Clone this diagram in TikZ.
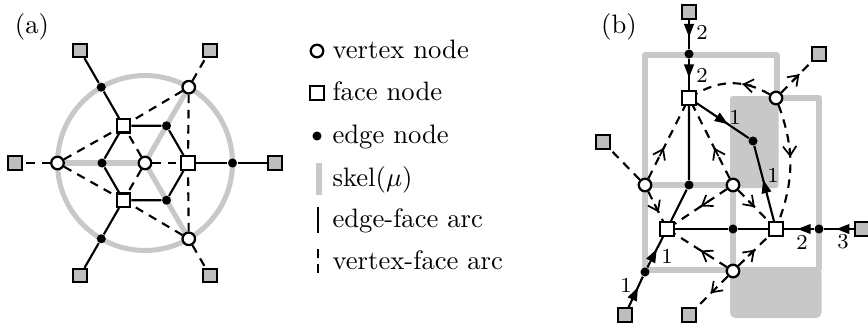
\documentclass[tikz,border=0pt]{standalone}
\usetikzlibrary{arrows.meta,decorations.markings}
\definecolor{skelgray}{RGB}{200,200,200}
\definecolor{boxgray}{RGB}{190,190,190}
\pgfdeclarelayer{background}
\pgfsetlayers{background,main}
\tikzset{
  vnode/.style={circle,draw,fill=white,line width=0.85pt,minimum size=4.7pt,inner sep=0pt},
  fnode/.style={rectangle,draw,fill=white,line width=0.85pt,minimum size=5pt,inner sep=0pt},
  onode/.style={fnode,fill=boxgray},
  enode/.style={circle,fill=black,minimum size=3.4pt,inner sep=0pt},
  skel/.style={draw=skelgray,line width=1.9pt,line join=round},
  efarc/.style={draw,line width=0.8pt},
  vfarc/.style={draw,line width=0.8pt,dash pattern=on 3.2pt off 2.5pt},
  lbl/.style={font=\footnotesize,inner sep=0pt},
  legtext/.style={anchor=base west,inner sep=0pt},
  midtri/.style={postaction={decorate},decoration={markings,
      mark=at position #1 with {\arrow{Triangle[length=5pt,width=3.6pt]}}}},
  midtri/.default=0.5,
  midbarb/.style={postaction={decorate},decoration={markings,
      mark=at position #1 with {\draw[solid,line width=0.65pt] (-3.5pt,0) -- (0,0);
        \arrow[line width=0.65pt]{Straight Barb[length=3.5pt,width=5pt]}}}},
  midbarb/.default=0.5,
}
\begin{document}
\begin{tikzpicture}[x=0.375pt,y=-0.375pt]
\useasboundingbox (0,0) rectangle (868,328);

% ---------------- (a) ----------------
\node (alabel) at (32,27) {(a)};

\node[vnode] (ac) at (145,163) {};
\node[vnode] (al) at (57.5,163) {};
\node[vnode] (au) at (188.75,87.2) {};
\node[vnode] (ad) at (188.75,238.8) {};
\node[fnode] (af0) at (188,163) {};
\node[fnode] (af1) at (123.5,125.8) {};
\node[fnode] (af2) at (123.5,200.2) {};
\node[enode] (ae0) at (102,163) {};
\node[enode] (ae1) at (166.5,125.8) {};
\node[enode] (ae2) at (166.5,200.2) {};
\node[enode] (ao0) at (232.5,163) {};
\node[enode] (ao1) at (101.25,87.2) {};
\node[enode] (ao2) at (101.25,238.8) {};
\node[onode] (ag0) at (275,163) {};
\node[onode] (ag1) at (210,50.4) {};
\node[onode] (ag2) at (80,50.4) {};
\node[onode] (ag3) at (15,163) {};
\node[onode] (ag4) at (80,275.6) {};
\node[onode] (ag5) at (210,275.6) {};

\begin{pgfonlayer}{background}
  \draw[skel] (ac.center) circle[radius=32.8pt];
  \draw[skel] (ac.center) -- (al.center);
  \draw[skel] (ac.center) -- (au.center);
  \draw[skel] (ac.center) -- (ad.center);
\end{pgfonlayer}

% edge-face arcs
\draw[efarc] (af0) -- (ae1) -- (af1) -- (ae0) -- (af2) -- (ae2) -- (af0);
\draw[efarc] (ag2) -- (ao1) -- (af1);
\draw[efarc] (ag4) -- (ao2) -- (af2);
\draw[efarc] (ag0) -- (ao0) -- (af0);
% vertex-face arcs
\draw[vfarc] (al) -- (ag3);
\draw[vfarc] (au) -- (ag1);
\draw[vfarc] (ad) -- (ag5);
\draw[vfarc] (al) -- (af1);
\draw[vfarc] (al) -- (af2);
\draw[vfarc] (au) -- (af1);
\draw[vfarc] (au) -- (af0);
\draw[vfarc] (ad) -- (af0);
\draw[vfarc] (ad) -- (af2);
\draw[vfarc] (ac) -- (af1);
\draw[vfarc] (ac) -- (af2);
\draw[vfarc] (ac) -- (af0);

% ---------------- legend ----------------
\node[vnode] (lv) at (317,51) {};
\node[legtext] (lvt) at (332,58) {vertex node};
\node[fnode] (lf) at (317,93) {};
\node[legtext] (lft) at (332,100.5) {face node};
\node[enode] (le) at (317,136) {};
\node[legtext] (let) at (332,143) {edge node};
\coordinate (ls1) at (319,163);
\coordinate (ls2) at (319,195);
\draw[skel] (ls1) -- (ls2);
\node[legtext] (lst) at (332,186) {skel($\mu$)};
\coordinate (la1) at (318,207);
\coordinate (la2) at (318,233);
\draw[efarc] (la1) -- (la2);
\node[legtext] (lat) at (332,227) {edge-face arc};
\coordinate (lb1) at (318,249);
\coordinate (lb2) at (318,277);
\draw[vfarc] (lb1) -- (lb2);
\node[legtext] (lbt) at (332,269) {vertex-face arc};

% ---------------- (b) ----------------
\node (blabel) at (619,27) {(b)};

\node[vnode] (bv1) at (776,98) {};
\node[vnode] (bv2) at (645,185) {};
\node[vnode] (bv3) at (733,185) {};
\node[vnode] (bv4) at (733,271) {};
\node[fnode] (bf1) at (689,98) {};
\node[fnode] (bf2) at (667,229) {};
\node[fnode] (bf3) at (776,229) {};
\node[enode] (be0) at (689,54) {};
\node[enode] (be1) at (753,141) {};
\node[enode] (be2) at (689,185) {};
\node[enode] (be3) at (733,229) {};
\node[enode] (be4) at (819,229) {};
\node[enode] (be5) at (645,272) {};
\node[onode] (bg1) at (689,12) {};
\node[onode] (bg2) at (819,54) {};
\node[onode] (bg3) at (603,142) {};
\node[onode] (bg4) at (862,229) {};
\node[onode] (bg5) at (625,315) {};
\node[onode] (bg6) at (689,315) {};

\begin{pgfonlayer}{background}
  \fill[skelgray,rounded corners=1pt] (730,96) rectangle (778.5,188);
  \fill[skelgray,rounded corners=2pt] (730,267) rectangle (821.5,318);
  \draw[skel] (645,270) -- (645,55) -- (777,55) -- (777,98) -- (819,98) -- (819,270);
  \draw[skel] (645,185) -- (733,185) -- (733,270);
  \draw[skel] (645,270) -- (733,270);
\end{pgfonlayer}

% edge-face arcs
\draw[efarc,midtri=0.6] (bg1) -- (be0);
\draw[efarc,midtri=0.6] (be0) -- (bf1);
\draw[efarc,midtri=0.6] (bf1) -- (be1);
\draw[efarc,midtri=0.55] (bf3) -- (be1);
\draw[efarc] (bf1) -- (be2) -- (bf2);
\draw[efarc] (bf2) -- (be3) -- (bf3);
\draw[efarc,midtri=0.55] (be4) -- (bf3);
\draw[efarc,midtri=0.6] (bg4) -- (be4);
\draw[efarc,midtri=0.65] (bg5) -- (be5);
\draw[efarc,midtri=0.6] (be5) -- (bf2);

\node[lbl] (n1) at (702,32) {2};
\node[lbl] (n2) at (702,75) {2};
\node[lbl] (n3) at (735,117) {1};
\node[lbl] (n4) at (773,175) {1};
\node[lbl] (n5) at (802,242) {2};
\node[lbl] (n6) at (843,242) {3};
\node[lbl] (n7) at (626,285) {1};
\node[lbl] (n8) at (667,256) {1};

% vertex-face arcs
\draw[vfarc,midbarb=0.38] (bv1) to[out=150,in=30] (bf1);
\draw[vfarc,midbarb=0.6] (bv1) -- (bg2);
\draw[vfarc,midbarb=0.45] (bv1) to[out=-70,in=70] (bf3);
\draw[vfarc,midbarb=0.42] (bv2) -- (bf1);
\draw[vfarc,midbarb=0.42] (bv3) -- (bf1);
\draw[vfarc] (bv2) -- (bg3);
\draw[vfarc,midbarb=0.7] (bv2) -- (bf2);
\draw[vfarc,midbarb=0.5] (bv3) -- (bf2);
\draw[vfarc,midbarb=0.55] (bv3) -- (bf3);
\draw[vfarc,midbarb=0.5] (bv4) -- (bf2);
\draw[vfarc,midbarb=0.55] (bv4) -- (bf3);
\draw[vfarc,midbarb=0.55] (bv4) -- (bg6);
\end{tikzpicture}
\end{document}
